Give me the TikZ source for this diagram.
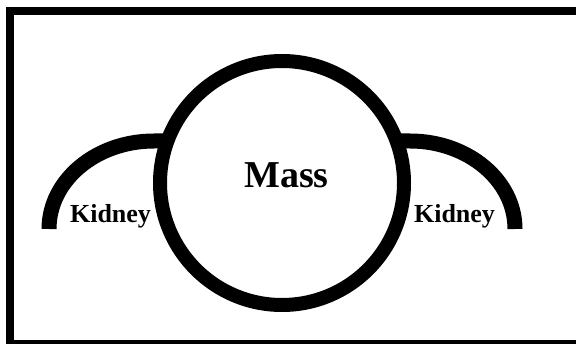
\documentclass[tikz,border=0pt]{standalone}
\usepackage{fontspec}
\setmainfont{Liberation Serif}
\begin{document}
\begin{tikzpicture}[x=1pt,y=1pt,
  thickline/.style={line width=14pt,black},
  arcline/.style={line width=15pt,black},
  labeltext/.style={font=\bfseries\fontsize{26}{26}\selectfont,anchor=base,inner sep=0pt},
  masstext/.style={font=\bfseries\fontsize{38}{38}\selectfont,anchor=base,inner sep=0pt}]
\useasboundingbox (0,0) rectangle (576,343);
\begin{scope}
\clip (0,0) rectangle (576,343);
\fill[white] (0,0) rectangle (576,343);
\draw[line width=8pt,black] (10,332) rectangle (600,-1);
\end{scope}
% kidney arcs
\draw[arcline] (49,114) arc[start angle=180,end angle=90,x radius=105,y radius=88] -- (172,202);
\draw[arcline] (515,114) arc[start angle=0,end angle=90,x radius=105,y radius=88] -- (392,202);
% mass circle
\draw[thickline,fill=white] (282,160) circle[radius=122];
\node[masstext] (mass) at (286.5,155) {Mass};
\node[labeltext] (kidL) at (110.5,120) {Kidney};
\node[labeltext] (kidR) at (454.5,120) {Kidney};
\end{tikzpicture}
\end{document}
